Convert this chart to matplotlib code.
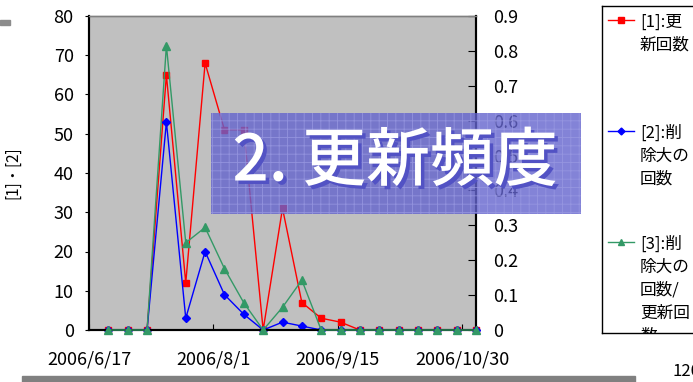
import numpy as np
import pandas as pd
import matplotlib
matplotlib.use('Agg')
import matplotlib.pyplot as plt
import matplotlib.dates as mdates
import matplotlib.patheffects as pe
from matplotlib.patches import Rectangle

plt.rcParams['font.family'] = ['Noto Sans CJK JP', 'DejaVu Sans']
plt.rcParams['hatch.linewidth'] = 0.6

# weekly samples
dates = pd.date_range('2006-06-24', periods=20, freq='7D')
updates = [0, 0, 0, 65, 12, 68, 51, 51, 0, 31, 7, 3, 2, 0, 0, 0, 0, 0, 0, 0]
big_deletes = [0, 0, 0, 53, 3, 20, 9, 4, 0, 2, 1, 0, 0, 0, 0, 0, 0, 0, 0, 0]
ratio = [0, 0, 0, 0.815, 0.25, 0.294, 0.176, 0.078, 0, 0.065, 0.143,
         0, 0, 0, 0, 0, 0, 0, 0, 0]
tick_dates = ['2006-06-17', '2006-08-01', '2006-09-15', '2006-10-30']
tick_labels = ['2006/6/17', '2006/8/1', '2006/9/15', '2006/10/30']
legend_labels = ['[1]:更\n新回数', '[2]:削\n除大の\n回数', '[3]:削\n除大の\n回数/\n更新回\n数']

W, H = 693, 382
red = '#ff0000'
blue = '#0000ff'
green = '#339966'
plot_bg = '#c0c0c0'


def fx(x):
    return x / W


def fy(y):
    return 1 - y / H


fig = plt.figure(figsize=(W / 100, H / 100), dpi=100)
ax = fig.add_axes([fx(89), fy(330), (476 - 89) / W, (330 - 16) / H])
ax.set_facecolor(plot_bg)

ax.plot(dates, updates, color=red, lw=1, marker='s', ms=5, clip_on=False, zorder=3)
ax.plot(dates, big_deletes, color=blue, lw=1, marker='D', ms=4.5, clip_on=False, zorder=3)
ax.set_ylim(0, 80)
ax.set_yticks(np.arange(0, 81, 10))
ax.set_xlim(pd.Timestamp('2006-06-17'), pd.Timestamp('2006-11-04'))
ax.set_xticks([mdates.date2num(pd.Timestamp(d)) for d in tick_dates])
ax.set_xticklabels(tick_labels)
ax.tick_params(axis='x', direction='in', length=4, pad=15, labelsize=13)
ax.tick_params(axis='y', direction='out', length=3, pad=8, labelsize=13)
ax.set_ylabel('[1]・[2]', fontsize=11)
ax.yaxis.set_label_coords(-0.176, 0.5)

ax2 = ax.twinx()
ax2.plot(dates, ratio, color=green, lw=1, marker='^', ms=6, clip_on=False, zorder=3)
ax2.set_ylim(0, 0.9)
ax2.set_yticks(np.arange(0, 0.91, 0.1))
ax2.set_yticklabels(['0'] + ['%.1f' % v for v in np.arange(0.1, 0.91, 0.1)])
ax2.tick_params(axis='y', direction='in', length=6, pad=12, labelsize=13)

for a in (ax, ax2):
    for s in ('left', 'bottom', 'right'):
        a.spines[s].set_color('black')
        a.spines[s].set_linewidth(1.5)
    a.spines['top'].set_color('#808080')
    a.spines['top'].set_linewidth(1)

# legend box, partly cut by the slide edge
lg = fig.add_axes([fx(602), fy(333), (700 - 602) / W, (333 - 6) / H])
lg.set_xlim(602, 700)
lg.set_ylim(333, 6)
lg.set_xticks([])
lg.set_yticks([])
lg.set_facecolor('white')
for s in lg.spines.values():
    s.set_color('black')
    s.set_linewidth(1)
entries = [(red, 's', 4, 20), (blue, 'D', 3.5, 131), (green, '^', 5, 242)]
for (c, m, ms, y0), lab in zip(entries, legend_labels):
    lg.plot([608, 634], [y0, y0], color=c, lw=1)
    lg.plot([621], [y0], color=c, marker=m, ms=ms)
    lg.text(640, y0 - 6, lab, fontsize=12, va='top', ha='left',
            linespacing=1.45, clip_on=True)

# slide decorations
fig.patches.append(Rectangle((fx(0), fy(25)), 10 / W, 5 / H, color='#8c8c8c',
                             transform=fig.transFigure))
fig.patches.append(Rectangle((fx(22), fy(382)), (635 - 22) / W, 6 / H, color='#808080',
                             transform=fig.transFigure))
fig.text(fx(672), fy(372), '120', fontsize=12, va='center', ha='left')

# title overlay
box = Rectangle((fx(211), fy(214)), (581 - 211) / W, (214 - 113) / H,
                transform=fig.transFigure, facecolor='#6464cd', alpha=0.8,
                edgecolor='#9a9ae2', hatch='++', lw=0, zorder=10)
fig.add_artist(box)
t = fig.text(fx(395), fy(162), '2. 更新頻度', fontsize=46, color='white',
             fontweight='medium', ha='center', va='center', zorder=11)
t.set_path_effects([pe.withSimplePatchShadow(offset=(2.5, -2.5),
                                             shadow_rgbFace='#5252c4', alpha=1)])

fig.savefig('out.png', dpi=100)
